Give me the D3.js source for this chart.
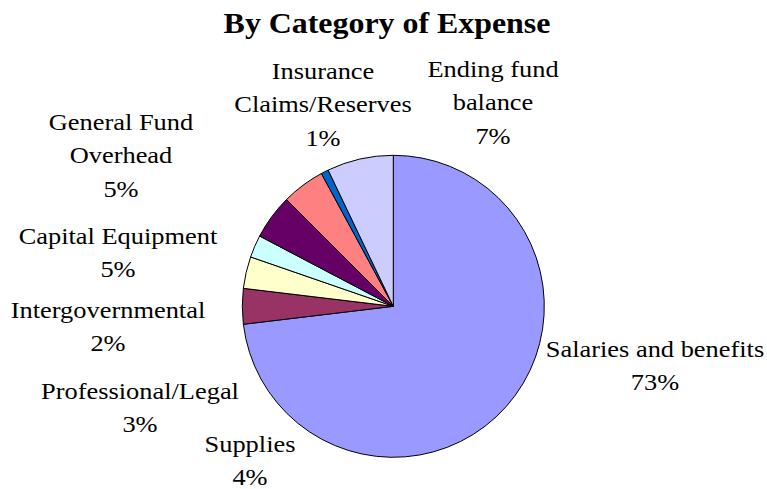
<!DOCTYPE html>
<html>
<head>
<meta charset="utf-8">
<script src="https://cdn.jsdelivr.net/npm/d3@7"></script>
<style>
  html, body { margin: 0; padding: 0; background: #ffffff; }
  svg { display: block; }
</style>
</head>
<body>
<svg id="chart" width="767" height="489"></svg>
<script>
// Expense categories, in drawing order (clockwise from 12 o'clock)
const categories = [
  "Salaries and benefits",
  "Supplies",
  "Professional/Legal",
  "Intergovernmental",
  "Capital Equipment",
  "General Fund Overhead",
  "Insurance Claims/Reserves",
  "Ending fund balance"
];

// Share of total expense, percent
const shares = [73.1, 3.8, 3.4, 2.4, 4.8, 4.6, 0.8, 7.1];

// Slice fill colours
const sliceColors = ["#9999FF", "#993366", "#FFFFCC", "#CCFFFF", "#660066", "#FF8080", "#0066CC", "#CCCCFF"];

// Label text broken into lines (category lines; percentage appended below)
const labelLines = [
  ["Salaries and benefits"],
  ["Supplies"],
  ["Professional/Legal"],
  ["Intergovernmental"],
  ["Capital Equipment"],
  ["General Fund", "Overhead"],
  ["Insurance", "Claims/Reserves"],
  ["Ending fund", "balance"]
];

// Label anchor (centre x, first baseline y) for each category
const labelAnchors = [
  [655, 357], [250, 452], [140, 399], [108, 318],
  [118, 244], [121, 130], [323, 79], [493, 77]
];

const title = "By Category of Expense";

const FONT = "Liberation Serif";
const STRETCH = 1.1;   // text is set slightly wide

const svg = d3.select("#chart");
const cx = 393.3, cy = 306.3, radius = 151;
const lineH = 33.5;

const data = categories.map((c, i) => ({ name: c, value: shares[i], color: sliceColors[i], lines: labelLines[i], anchor: labelAnchors[i] }));

const pie = d3.pie().value(d => d.value).sort(null);
const arc = d3.arc().innerRadius(0).outerRadius(radius);

const g = svg.append("g").attr("transform", `translate(${cx},${cy})`);
g.selectAll("path.slice")
  .data(pie(data))
  .join("path")
  .attr("class", "slice")
  .attr("d", arc)
  .attr("fill", d => d.data.color)
  .attr("stroke", "#000")
  .attr("stroke-width", 1)
  .attr("stroke-linejoin", "round");

// Title
svg.append("text")
  .attr("transform", `translate(387,33) scale(${STRETCH},1)`)
  .attr("text-anchor", "middle")
  .style("font-family", FONT)
  .style("font-weight", "bold")
  .style("font-size", "29px")
  .attr("fill", "#000")
  .text(title);

// Category labels with percentages
const total = d3.sum(shares);
const labels = svg.selectAll("text.label")
  .data(data)
  .join("text")
  .attr("class", "label")
  .attr("transform", d => `translate(${d.anchor[0]},${d.anchor[1]}) scale(${STRETCH},1)`)
  .attr("text-anchor", "middle")
  .style("font-family", FONT)
  .style("font-size", "24px")
  .attr("fill", "#000");

labels.each(function(d) {
  const t = d3.select(this);
  const lines = d.lines.concat([d3.format(".0f")(d.value / total * 100) + "%"]);
  lines.forEach((ln, j) => {
    t.append("tspan")
      .attr("x", 0)
      .attr("y", j * lineH)
      .text(ln);
  });
});
</script>
</body>
</html>
